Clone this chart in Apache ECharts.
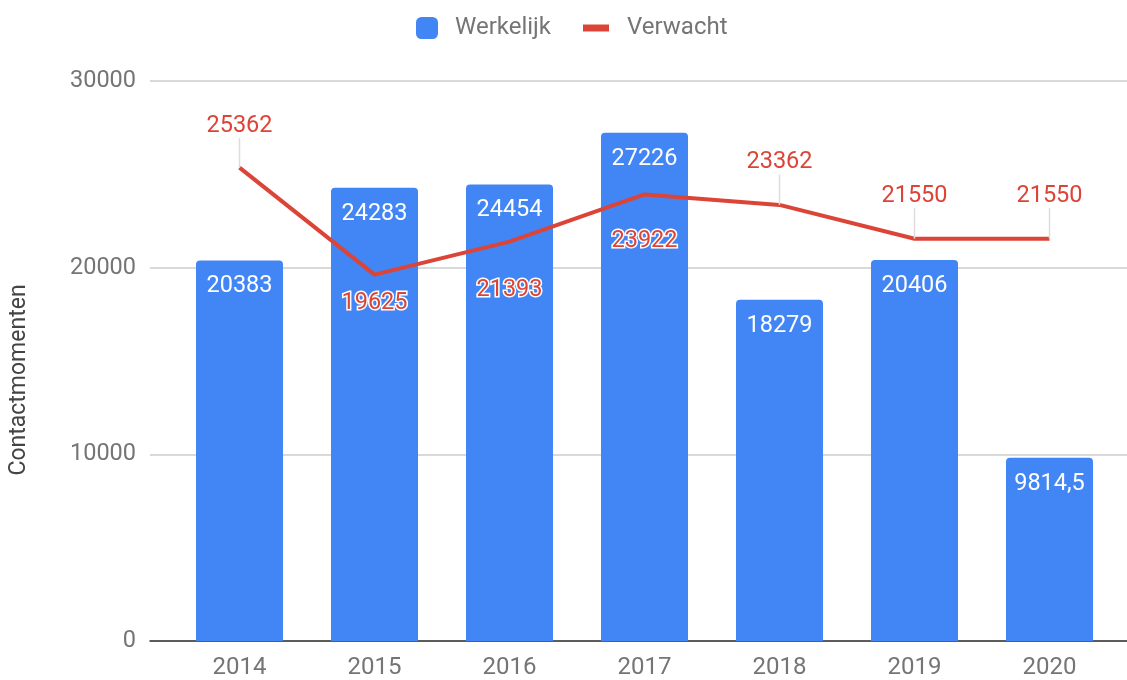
<!DOCTYPE html>
<html>
<head>
<meta charset="utf-8">
<script src="https://cdn.jsdelivr.net/npm/echarts@6/dist/echarts.min.js"></script>
<style>
  html, body { margin: 0; padding: 0; background: #fff; }
  #chart { width: 1127px; height: 680px; }
</style>
</head>
<body>
<div id="chart"></div>
<script>
// data
const categories = ['2014', '2015', '2016', '2017', '2018', '2019', '2020']
const werkelijk = [20383, 24283, 24454, 27226, 18279, 20406, 9814.5]
const verwacht = [25362, 19625, 21393, 23922, 23362, 21550, 21550]
const yTicks = [0, 10000, 20000, 30000]

// label offsets of the expected line (px, from the point)
const lineLabelDy = [-41.5, 28.5, 48.5, 46.5, -42.5, -42.5, -42.5]

const font = 'Roboto, "Noto Sans", sans-serif'
const gray = '#757575'
const blue = '#4285f4'
const red = '#db4437'

const fmt = (v) => String(v).replace('.', ',')

const chart = echarts.init(document.getElementById('chart'))

const lineData = verwacht.map((v, i) => {
  const below = lineLabelDy[i] > 0
  return {
    value: v,
    label: below
      ? { textBorderColor: '#fff', textBorderWidth: 3 }
      : {},
    labelLine: { show: !below }
  }
})

const option = {
  animation: false,
  textStyle: { fontFamily: font },
  legend: [
    {
      data: [{ name: 'Werkelijk', icon: 'roundRect' }],
      left: 416,
      top: 16,
      padding: 0,
      itemWidth: 22,
      itemHeight: 22,
      textStyle: { fontSize: 24, lineHeight: 24, color: gray, padding: [0, 0, 0, 12], fontFamily: font }
    },
    {
      data: [{ name: 'Verwacht', icon: 'rect' }],
      left: 583,
      top: 16,
      padding: 0,
      itemWidth: 26,
      itemHeight: 7,
      textStyle: { fontSize: 24, lineHeight: 24, color: gray, padding: [0, 0, 0, 13], fontFamily: font }
    }
  ],
  grid: [
    { left: 149, right: 0, top: 81, bottom: 39 },
    { left: 172, right: 10, top: 81, bottom: 39 }
  ],
  xAxis: [
    {
      type: 'category',
      gridIndex: 0,
      data: categories,
      axisLine: { show: true, lineStyle: { color: '#333', width: 1.5 } },
      axisTick: { show: false },
      axisLabel: { show: false }
    },
    {
      type: 'category',
      gridIndex: 1,
      data: categories,
      axisLine: { show: false },
      axisTick: { show: false },
      axisLabel: { fontSize: 24, color: gray, margin: 15, fontFamily: font }
    }
  ],
  yAxis: [
    {
      type: 'value',
      gridIndex: 0,
      min: yTicks[0],
      max: yTicks[yTicks.length - 1],
      interval: 10000,
      name: 'Contactmomenten',
      nameLocation: 'middle',
      nameGap: 119,
      nameTextStyle: { fontSize: 23, color: '#444', padding: [0, 38, 0, 0], fontFamily: font },
      axisLine: { show: false },
      axisTick: { show: false },
      axisLabel: { fontSize: 23.5, color: gray, margin: 14, fontFamily: font, formatter: (v) => String(v) },
      splitLine: { lineStyle: { color: '#cccccc', width: 1.5 } }
    },
    {
      type: 'value',
      gridIndex: 1,
      min: yTicks[0],
      max: yTicks[yTicks.length - 1],
      interval: 10000,
      show: false,
      splitLine: { show: false }
    }
  ],
  series: [
    {
      name: 'Werkelijk',
      type: 'bar',
      xAxisIndex: 1,
      yAxisIndex: 1,
      data: werkelijk,
      barWidth: 87,
      itemStyle: { color: blue, borderRadius: [4, 4, 0, 0] },
      label: {
        show: true,
        position: 'insideTop',
        distance: 14,
        color: '#fff',
        fontSize: 23.5,
        fontFamily: font,
        formatter: (p) => fmt(p.value)
      }
    },
    {
      name: 'Verwacht',
      type: 'line',
      xAxisIndex: 1,
      yAxisIndex: 1,
      data: lineData,
      symbol: 'circle',
      symbolSize: 0.1,
      showSymbol: true,
      z: 5,
      lineStyle: { color: red, width: 4 },
      itemStyle: { color: red },
      label: {
        show: true,
        position: 'inside',
        color: red,
        fontSize: 23.5,
        fontFamily: font,
        formatter: (p) => fmt(p.value)
      },
      labelLine: { show: true, lineStyle: { color: '#dddddd', width: 1.5 } },
      labelLayout: (params) => ({ dy: lineLabelDy[params.dataIndex] })
    }
  ]
}

chart.setOption(option)
</script>
</body>
</html>
